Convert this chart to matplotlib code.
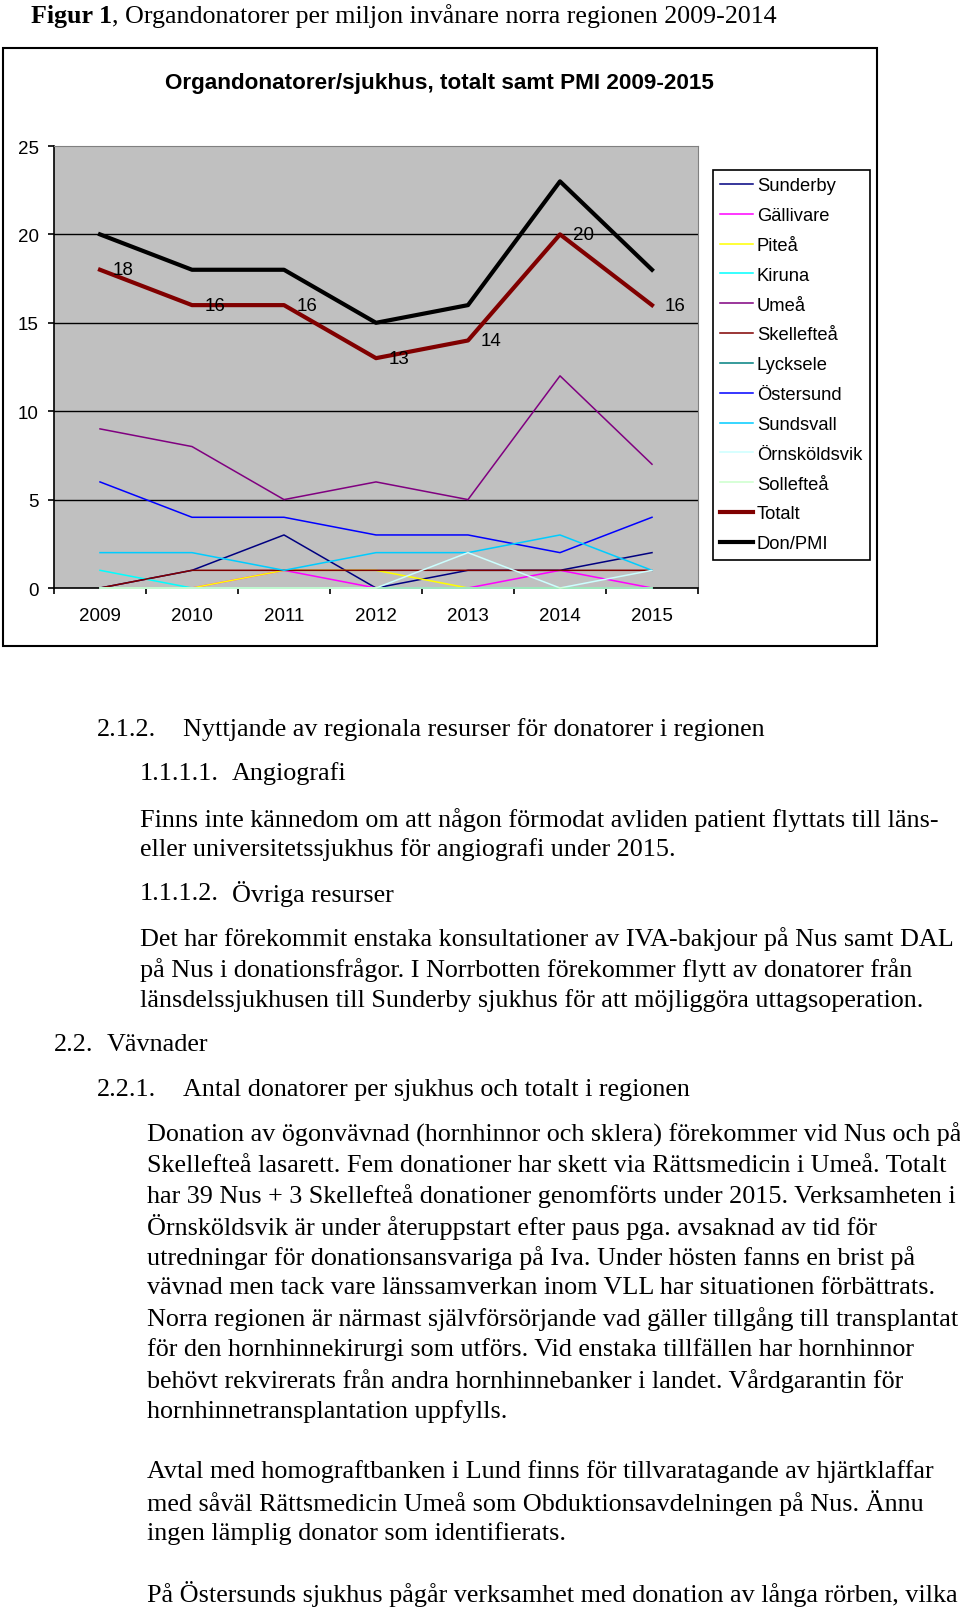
import matplotlib
matplotlib.use("Agg")
import matplotlib.pyplot as plt
from matplotlib.patches import Rectangle

W, H = 960, 1608

# chart data
years = ["2009", "2010", "2011", "2012", "2013", "2014", "2015"]
sunderby = [0, 1, 3, 0, 1, 1, 2]
gallivare = [0, 0, 1, 0, 0, 1, 0]
pitea = [0, 0, 1, 1, 0, 0, 0]
kiruna = [1, 0, 0, 0, 0, 0, 0]
umea = [9, 8, 5, 6, 5, 12, 7]
skelleftea = [0, 1, 1, 1, 1, 1, 1]
lycksele = [0, 0, 0, 0, 0, 0, 0]
ostersund = [6, 4, 4, 3, 3, 2, 4]
sundsvall = [2, 2, 1, 2, 2, 3, 1]
ornskoldsvik = [0, 0, 0, 0, 2, 0, 1]
solleftea = [0, 0, 0, 0, 0, 0, 0]
totalt = [18, 16, 16, 13, 14, 20, 16]
don_pmi = [20, 18, 18, 15, 16, 23, 18]

series = [
    ("Sunderby", sunderby, "#000080", 1.1),
    ("Gällivare", gallivare, "#FF00FF", 1.1),
    ("Piteå", pitea, "#FFFF00", 1.1),
    ("Kiruna", kiruna, "#00FFFF", 1.1),
    ("Umeå", umea, "#800080", 1.1),
    ("Skellefteå", skelleftea, "#800000", 1.1),
    ("Lycksele", lycksele, "#008080", 1.1),
    ("Östersund", ostersund, "#0000FF", 1.1),
    ("Sundsvall", sundsvall, "#00CCFF", 1.1),
    ("Örnsköldsvik", ornskoldsvik, "#CCFFFF", 1.1),
    ("Sollefteå", solleftea, "#CCFFCC", 1.1),
    ("Totalt", totalt, "#800000", 3.0),
    ("Don/PMI", don_pmi, "#000000", 3.0),
]


def fx(x):
    return x / W


def fy(y):
    return 1 - y / H


fig = plt.figure(figsize=(W / 100, H / 100), dpi=100)
fig.patch.set_facecolor("white")

SANS = "Liberation Sans"
SERIF = "Liberation Serif"

# outer chart frame
fig.patches.append(Rectangle((fx(3), fy(647)), fx(874), 598 / H, transform=fig.transFigure,
                             fill=False, edgecolor="black", linewidth=1.5))

fig.text(fx(439), fy(84), "Organdonatorer/sjukhus, totalt samt PMI 2009-2015",
         family=SANS, fontsize=16.2, fontweight="bold", ha="center", va="center")

# plot area
left, right, top, bottom = 54, 698, 147, 589
ax = fig.add_axes([fx(left), fy(bottom), (right - left) / W, (bottom - top) / H])
ax.set_facecolor("#C0C0C0")
x = list(range(len(years)))

for y in [5, 10, 15, 20]:
    ax.axhline(y, color="black", linewidth=1.0, zorder=1)

handles = []
for name, vals, color, lw in series:
    (ln,) = ax.plot(x, vals, color=color, linewidth=lw, label=name, zorder=3, clip_on=False)
    handles.append(ln)

for xi, v in zip(x, totalt):
    ax.annotate(str(v), (xi, v), xytext=(9, 0), textcoords="offset points",
                ha="left", va="center", fontsize=13.5, family=SANS, zorder=4)

ax.set_xlim(-0.5, 6.5)
ax.set_ylim(0, 25)
ax.set_yticks([0, 5, 10, 15, 20, 25])
ax.tick_params(axis="y", direction="out", length=4.5, width=1.2, pad=6.5, labelsize=13.5)
ax.set_xticks(x)
ax.set_xticklabels(years)
ax.set_xticks([-0.5 + i for i in range(8)], minor=True)
ax.tick_params(axis="x", which="major", length=0, pad=14, labelsize=13.5)
ax.tick_params(axis="x", which="minor", direction="out", length=4.5, width=1.2)
for lab in ax.get_xticklabels() + ax.get_yticklabels():
    lab.set_family(SANS)
ax.spines["left"].set_color("black")
ax.spines["left"].set_linewidth(1.2)
ax.spines["bottom"].set_color("black")
ax.spines["bottom"].set_linewidth(1.2)
ax.spines["top"].set_color("#808080")
ax.spines["right"].set_color("#808080")

leg = ax.legend(handles=handles, loc="upper left", bbox_to_anchor=(fx(713), fy(171)),
                bbox_transform=fig.transFigure, frameon=True, fancybox=False,
                edgecolor="black", framealpha=1, prop={"family": SANS, "size": 13.2},
                handlelength=1.8, handletextpad=0.2, labelspacing=0.70,
                borderpad=0.4, borderaxespad=0)
leg.get_frame().set_linewidth(1.2)

# caption above chart
renderer = fig.canvas.get_renderer()
t = fig.text(fx(31), fy(16), "Figur 1", family=SERIF, fontsize=18.7, fontweight="bold",
             ha="left", va="center")
bb = t.get_window_extent(renderer)
fig.text(bb.x1 / W, fy(16), ", Organdonatorer per miljon invånare norra regionen 2009-2014",
         family=SERIF, fontsize=18.7, ha="left", va="center")

# document text below chart
BODY = 18.8
lines = [
    (97, 730, "2.1.2."), (183, 730, "Nyttjande av regionala resurser för donatorer i regionen"),
    (140, 774, "1.1.1.1."), (232, 774, "Angiografi"),
    (140, 820, "Finns inte kännedom om att någon förmodat avliden patient flyttats till läns-"),
    (140, 850, "eller universitetssjukhus för angiografi under 2015."),
    (140, 894, "1.1.1.2."), (232, 894, "Övriga resurser"),
    (140, 939, "Det har förekommit enstaka konsultationer av IVA-bakjour på Nus samt DAL"),
    (140, 970, "på Nus i donationsfrågor. I Norrbotten förekommer flytt av donatorer från"),
    (140, 1001, "länsdelssjukhusen till Sunderby sjukhus för att möjliggöra uttagsoperation."),
    (54, 1045, "2.2."), (107, 1045, "Vävnader"),
    (97, 1090, "2.2.1."), (183, 1090, "Antal donatorer per sjukhus och totalt i regionen"),
]
para = [
    "Donation av ögonvävnad (hornhinnor och sklera) förekommer vid Nus och på",
    "Skellefteå lasarett. Fem donationer har skett via Rättsmedicin i Umeå. Totalt",
    "har 39 Nus + 3 Skellefteå donationer genomförts under 2015. Verksamheten i",
    "Örnsköldsvik är under återuppstart efter paus pga. avsaknad av tid för",
    "utredningar för donationsansvariga på Iva. Under hösten fanns en brist på",
    "vävnad men tack vare länssamverkan inom VLL har situationen förbättrats.",
    "Norra regionen är närmast självförsörjande vad gäller tillgång till transplantat",
    "för den hornhinnekirurgi som utförs. Vid enstaka tillfällen har hornhinnor",
    "behövt rekvirerats från andra hornhinnebanker i landet. Vårdgarantin för",
    "hornhinnetransplantation uppfylls.",
]
for i, s in enumerate(para):
    lines.append((147, 1135 + i * 30.7, s))
para2 = [
    "Avtal med homograftbanken i Lund finns för tillvaratagande av hjärtklaffar",
    "med såväl Rättsmedicin Umeå som Obduktionsavdelningen på Nus. Ännu",
    "ingen lämplig donator som identifierats.",
]
for i, s in enumerate(para2):
    lines.append((147, 1472 + i * 30.7, s))
lines.append((147, 1594, "På Östersunds sjukhus pågår verksamhet med donation av långa rörben, vilka"))

for xp, yp, s in lines:
    fig.text(fx(xp), fy(yp), s, family=SERIF, fontsize=BODY, ha="left", va="center")

fig.savefig("out.png", dpi=100)
